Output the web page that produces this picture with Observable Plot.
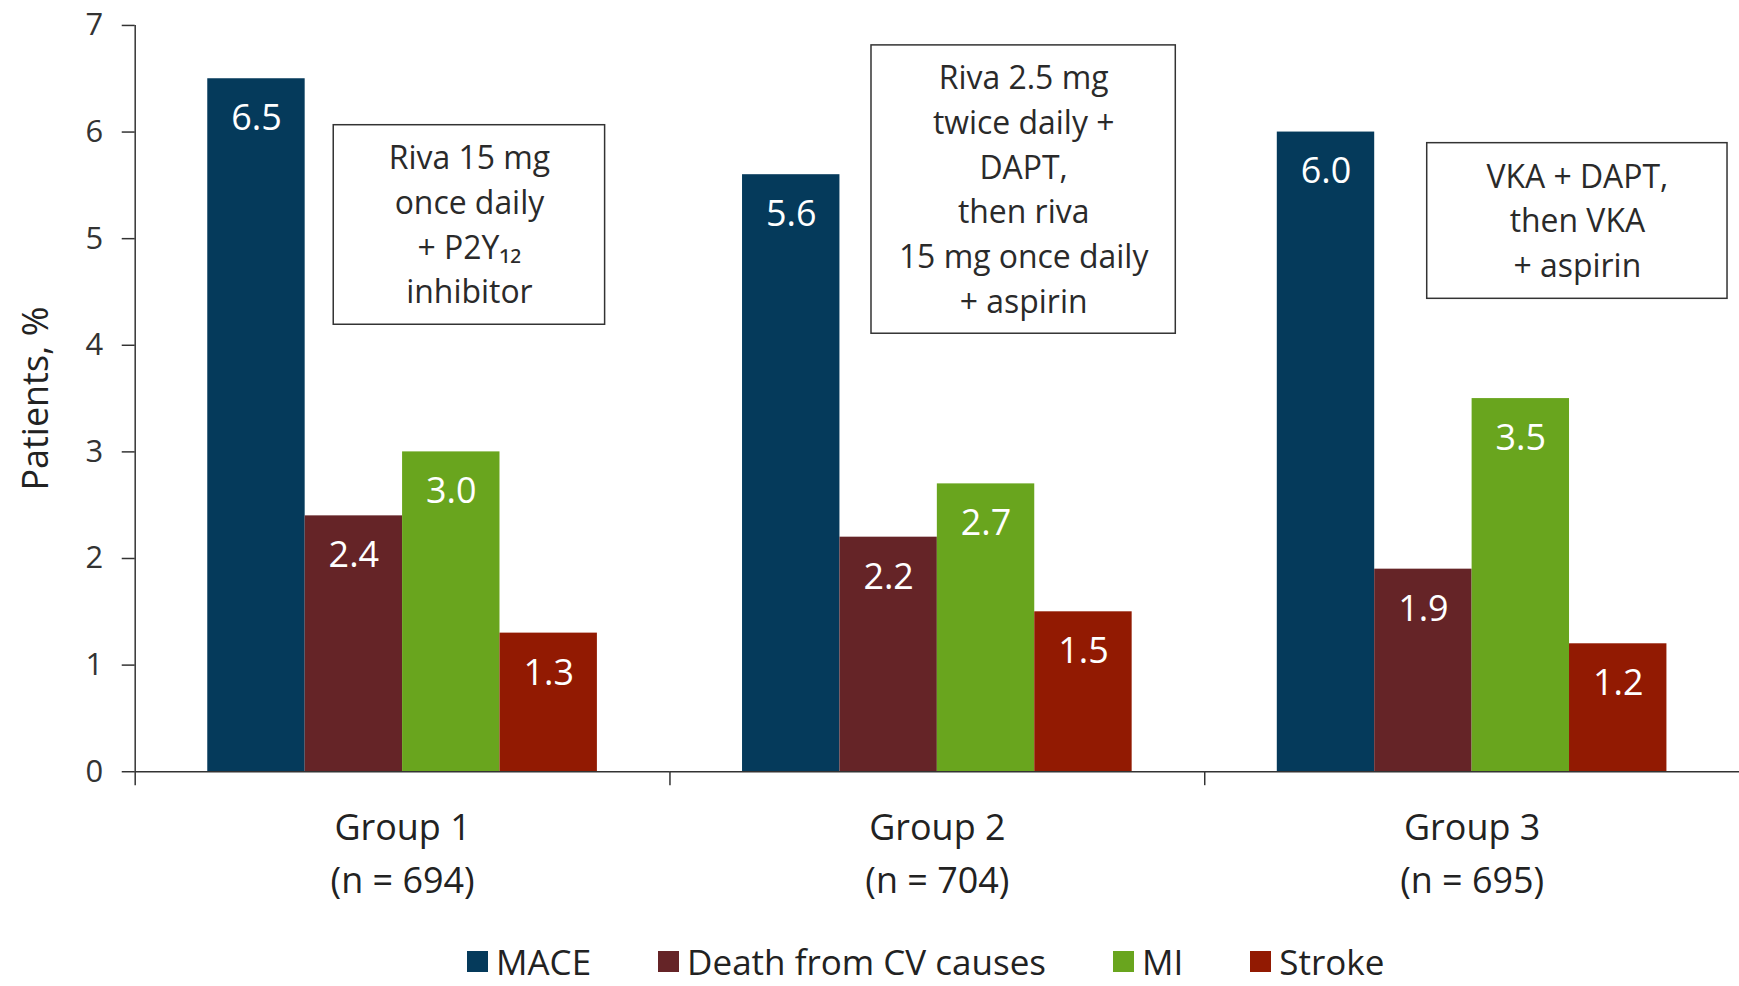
<!DOCTYPE html>
<html><head><meta charset="utf-8">
<script src="https://cdn.jsdelivr.net/npm/d3@7"></script>
<script src="https://cdn.jsdelivr.net/npm/@observablehq/plot@0.6"></script>
<style>
html,body{margin:0;padding:0;background:#fff;overflow:hidden;}
#chart{position:relative;width:1739px;height:986px;font-family:'Open Sans',sans-serif;}
#chart svg{display:block}
#legend{position:absolute;left:467px;top:941px;}
#legend .lg-swatches{font-family:'Open Sans',sans-serif !important;font-size:35px !important;line-height:1 !important;color:#222 !important;margin:0 !important;min-height:0 !important;height:40px;display:flex !important;align-items:center !important;flex-wrap:nowrap !important;white-space:nowrap;}
#legend .lg-swatch{margin-right:67px !important;display:inline-flex !important;align-items:center !important;line-height:1 !important;}
#legend .lg-swatch > svg{margin-right:8px !important;}
</style></head><body><div id="chart"></div>
<script>
// ---- data ----
const groups = ["Group 1", "Group 2", "Group 3"];
const groupN = [694, 704, 695];
const metrics = ["MACE", "Death from CV causes", "MI", "Stroke"];
const colors = ["#053a5b", "#652427", "#69a51e", "#921a02"];
const maceVals = [6.5, 5.6, 6.0];
const deathVals = [2.4, 2.2, 1.9];
const miVals = [3.0, 2.7, 3.5];
const strokeVals = [1.3, 1.5, 1.2];
const yTicks = [0, 1, 2, 3, 4, 5, 6, 7];
const yLabel = "Patients, %";
const noteTexts = [
  "Riva 15 mg\nonce daily\n+ P2Y\u2081\u2082\ninhibitor",
  "Riva 2.5 mg\ntwice daily +\nDAPT,\nthen riva\n15 mg once daily\n+ aspirin",
  "VKA + DAPT,\nthen VKA\n+ aspirin"
];

const series = [maceVals, deathVals, miVals, strokeVals];
const rows = groups.flatMap((g, i) => metrics.map((m, j) => ({group: g, metric: m, value: series[j][i]})));

// ---- layout / style ----
const W = 1743, H = 930, ML = 135, MT = 25, MB = 157;
const xPad = 0.745;
const facetW = (W - ML) / groups.length;
const frameH = H - MT - MB;
const step = facetW / (metrics.length + 2 * xPad);
const edgeDx = -(xPad + 0.5) * step;
const ink = "#333";
const noteBoxes = [
  {insetLeft: 199, insetRight: 65, insetTop: 100, insetBottom: 448},
  {insetLeft: 202, insetRight: 29, insetTop: 20, insetBottom: 439},
  {insetLeft: 223, insetRight: 12, insetTop: 118, insetBottom: 474}
];

const noteMarks = noteTexts.flatMap((t, i) => {
  const b = noteBoxes[i];
  const d = [{group: groups[i], text: t}];
  const w = facetW - b.insetLeft - b.insetRight;
  const h = frameH - b.insetTop - b.insetBottom;
  return [
    Plot.rect(d, {fx: "group", ...b, fill: "white", stroke: ink, strokeWidth: 1.5}),
    Plot.text(d, {fx: "group", text: "text", frameAnchor: "top-left", dx: b.insetLeft + w / 2, dy: b.insetTop + h / 2 - 3,
      textAnchor: "middle", lineAnchor: "middle", fontSize: 32, lineHeight: 1.4, fill: "#2a2a2a"})
  ];
});

const edges = groups.map((g, i) => ({group: g, top: i === 0 ? yTicks[yTicks.length - 1] : 0}));

const chart = Plot.plot({
  width: W, height: H,
  marginLeft: ML, marginRight: 0, marginTop: MT, marginBottom: MB,
  style: {fontFamily: "'Open Sans', sans-serif", fontSize: "31px", color: ink, background: "white", overflow: "visible"},
  fx: {domain: groups, padding: 0, round: false},
  x: {domain: metrics, paddingInner: 0, paddingOuter: xPad, round: false, axis: null},
  y: {domain: [0, 7]},
  color: {domain: metrics, range: colors},
  marks: [
    Plot.barY(rows, {fx: "group", x: "metric", y: "value", fill: "metric"}),
    Plot.ruleY([0], {stroke: ink, strokeWidth: 1.5}),
    Plot.ruleX(edges, {fx: "group", x: () => metrics[0], y1: "top", y2: () => 0, dx: edgeDx, insetBottom: -14, stroke: ink, strokeWidth: 1.5}),
    Plot.axisY({ticks: yTicks, tickFormat: d => String(d), tickSize: 13, tickPadding: 19, fontSize: 31, label: null, strokeWidth: 1.5}),
    Plot.axisFx({anchor: "bottom", tickSize: 0, tickPadding: 31, fontSize: 36, lineHeight: 1.47, label: null,
      tickFormat: d => `${d}\n(n = ${groupN[groups.indexOf(d)]})`, fill: "#222"}),
    Plot.text([{group: groups[0], label: yLabel}], {fx: "group", text: "label", frameAnchor: "left", rotate: -90, dx: -99,
      fontSize: 36, textAnchor: "middle", lineAnchor: "middle", fill: "#222"}),
    ...noteMarks,
    Plot.text(rows, {fx: "group", x: "metric", y: "value", text: d => d.value.toFixed(1), dy: 40, lineAnchor: "middle",
      fill: "white", fontSize: 36})
  ]
});

const root = document.getElementById("chart");
root.appendChild(chart);
const lg = document.createElement("div");
lg.id = "legend";
lg.appendChild(chart.legend("color", {swatchSize: 21, className: "lg"}));
root.appendChild(lg);
</script></body></html>
